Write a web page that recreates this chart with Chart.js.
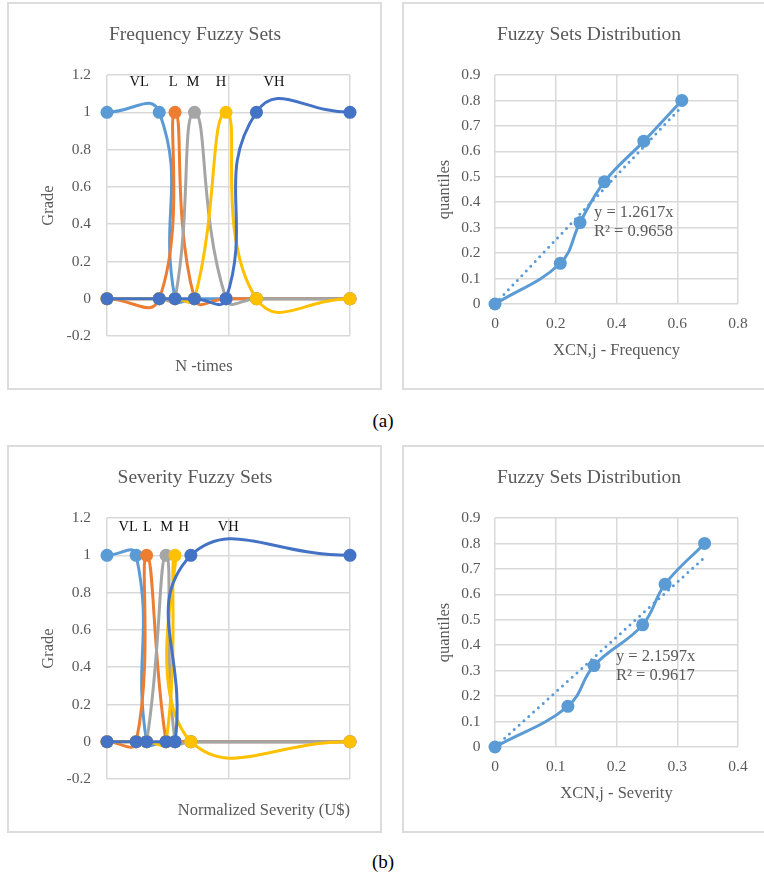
<!DOCTYPE html>
<html>
<head>
<meta charset="utf-8">
<script src="https://cdn.jsdelivr.net/npm/chart.js@4.4.1/dist/chart.umd.min.js"></script>
<style>
  html, body { margin: 0; padding: 0; background: #fff; }
  #page { position: relative; width: 764px; height: 879px; overflow: hidden; }
  .box { position: absolute; width: 375px; height: 388px; border: 2px solid #DCDCDC; box-sizing: border-box; }
  canvas { position: absolute; }
  .cap { position: absolute; font: 19px 'Liberation Serif', 'Times New Roman', serif; line-height: 19px; color: #000; transform: translateX(-50%); }
</style>
</head>
<body>
<div id="page">
  <div class="box" style="left:7px; top:2px;"></div>
  <div class="box" style="left:402px; top:2px;"></div>
  <div class="box" style="left:7px; top:445px;"></div>
  <div class="box" style="left:402px; top:445px;"></div>
  <canvas id="freqSets" width="374" height="387" style="left:8px; top:3px;"></canvas>
  <canvas id="freqDist" width="374" height="387" style="left:402px; top:3px;"></canvas>
  <canvas id="sevSets" width="374" height="387" style="left:8px; top:446px;"></canvas>
  <canvas id="sevDist" width="374" height="387" style="left:402px; top:446px;"></canvas>
  <div class="cap" style="left:383px; top:411px;">(a)</div>
  <div class="cap" style="left:383px; top:852px;">(b)</div>
</div>
<script>
	// fuzzy sets (membership grade at each break point)
	const setNames = ['VL', 'L', 'M', 'H', 'VH'];
	const setColors = ['#5B9BD5', '#ED7D31', '#A5A5A5', '#FFC000', '#4472C4'];

	const freqSetX = [0, 0.215, 0.28, 0.36, 0.49, 0.615, 1];
	const freqVL = [1, 1, 0, 0, 0, 0, 0];
	const freqL  = [0, 0, 1, 0, 0, 0, 0];
	const freqM  = [0, 0, 0, 1, 0, 0, 0];
	const freqH  = [0, 0, 0, 0, 1, 0, 0];
	const freqVH = [0, 0, 0, 0, 0, 1, 1];
	const freqLabelX = [0.132, 0.272, 0.354, 0.469, 0.687];

	const sevSetX = [0, 0.12, 0.163, 0.243, 0.28, 0.345, 1];
	const sevVL = [1, 1, 0, 0, 0, 0, 0];
	const sevL  = [0, 0, 1, 0, 0, 0, 0];
	const sevM  = [0, 0, 0, 1, 0, 0, 0];
	const sevH  = [0, 0, 0, 0, 1, 0, 0];
	const sevVH = [0, 0, 0, 0, 0, 1, 1];
	const sevLabelX = [0.087, 0.166, 0.246, 0.316, 0.499];

	const gradeTicks = [-0.2, 0, 0.2, 0.4, 0.6, 0.8, 1, 1.2];
	const gradeTickLabels = ['-0.2', '0', '0.2', '0.4', '0.6', '0.8', '1', '1.2'];
	const setTicks = [0, 0.5, 1];
	const setTickLabels = ['0', '0.5', '1'];

	// distribution (quantiles vs XCN,j)
	const quantiles = [0, 0.16, 0.32, 0.48, 0.64, 0.8];
	const freqXcn = [0, 0.215, 0.28, 0.36, 0.49, 0.615];
	const sevXcn = [0, 0.12, 0.163, 0.243, 0.28, 0.345];
	const freqTrendX = [0, 0.615];
	const freqTrendY = [0, 0.776];
	const sevTrendX = [0, 0.345];
	const sevTrendY = [0, 0.745];
	const freqEq = ['y = 1.2617x', 'R² = 0.9658'];
	const sevEq = ['y = 2.1597x', 'R² = 0.9617'];

	const quantTicks = [0, 0.1, 0.2, 0.3, 0.4, 0.5, 0.6, 0.7, 0.8, 0.9];
	const quantTickLabels = ['0', '0.1', '0.2', '0.3', '0.4', '0.5', '0.6', '0.7', '0.8', '0.9'];
	const freqXcnTicks = [0, 0.2, 0.4, 0.6, 0.8];
	const freqXcnTickLabels = ['0', '0.2', '0.4', '0.6', '0.8'];
	const sevXcnTicks = [0, 0.1, 0.2, 0.3, 0.4];
	const sevXcnTickLabels = ['0', '0.1', '0.2', '0.3', '0.4'];

	const SERIF = "'Liberation Serif', 'Times New Roman', serif";
	const GREY = '#595959';
	const GRID = '#D9D9D9';

	// text placed at data coordinates
	function textMarks(items) {
		return {
			id: 'textMarks',
			afterDraw(chart) {
				const ctx = chart.ctx;
				const xs = chart.scales.x, ys = chart.scales.y;
				items.forEach((it) => {
					ctx.save();
					ctx.font = it.font;
					ctx.fillStyle = it.color;
					ctx.textAlign = it.align || 'center';
					ctx.textBaseline = 'middle';
					ctx.fillText(it.text, xs.getPixelForValue(it.x), ys.getPixelForValue(it.y));
					ctx.restore();
				});
			}
		};
	}

	function axis(min, max, ticks, labels, extra) {
		return Object.assign({
			type: 'linear', min: min, max: max,
			afterBuildTicks: (s) => { s.ticks = ticks.map((v) => ({value: v})); },
			grid: {color: GRID, lineWidth: 1.5, drawTicks: false},
			border: {display: false},
			ticks: {autoSkip: false, color: GREY, font: {family: SERIF, size: 15.5}, callback: (v, i) => labels[i]}
		}, extra);
	}

	function baseOptions(title, padSide) {
		return {
			responsive: false, animation: false, events: [],
			layout: {padding: {left: padSide, right: padSide, top: 0, bottom: 0}},
			plugins: {
				legend: {display: false},
				tooltip: {enabled: false},
				title: {display: true, text: title, color: GREY,
					font: {family: SERIF, size: 19.5, weight: 'normal'},
					padding: {top: 19.7, bottom: 28.9}}
			}
		};
	}

	function fuzzyChart(id, title, xs, series, labelX, labelY, xTitle, extraText) {
		const datasets = series.map((vals, k) => ({
			label: setNames[k],
			data: xs.map((x, i) => ({x: x, y: vals[i]})),
			borderColor: setColors[k], backgroundColor: setColors[k],
			borderWidth: 3, pointRadius: 6.5, pointBorderWidth: 0,
			showLine: true, tension: 0.5, clip: false, order: 5 - k
		}));
		const items = setNames.map((n, k) => ({text: n, x: labelX[k], y: labelY,
			font: `14.5px ${SERIF}`, color: '#111'}));
		extraText.forEach((t) => items.push(t));

		const opts = baseOptions(title, 32);
		opts.scales = {
			x: axis(0, 1, setTicks, setTickLabels, {
				afterFit: (s) => { s.height = 54; },
				title: xTitle
			}),
			y: axis(-0.2, 1.2, gradeTicks, gradeTickLabels, {
				afterFit: (s) => { s.width = 67; },
				title: {display: true, text: 'Grade', color: GREY, font: {family: SERIF, size: 16.5}, padding: {top: -1, bottom: 0}}
			})
		};
		opts.scales.x.ticks.padding = -26;
		opts.scales.y.ticks.padding = 16;
		return new Chart(document.getElementById(id), {
			type: 'scatter', data: {datasets: datasets}, options: opts, plugins: [textMarks(items)]
		});
	}

	function distChart(id, xs, trendX, trendY, xMax, xTicks, xLabels, xTitle, eq, eqX, eqY) {
		const c = '#5B9BD5';
		const datasets = [
			{data: xs.map((x, i) => ({x: x, y: quantiles[i]})),
				borderColor: c, backgroundColor: c, borderWidth: 3, pointRadius: 6.5, pointBorderWidth: 0,
				showLine: true, tension: 0.4, clip: false, order: 1},
			{data: trendX.map((x, i) => ({x: x, y: trendY[i]})),
				borderColor: c, borderWidth: 3, pointRadius: 0, borderDash: [0, 6.5], borderCapStyle: 'round',
				showLine: true, tension: 0, clip: false, order: 0}
		];
		const items = eq.map((t, i) => ({text: t, x: eqX, y: eqY[i], align: 'left',
			font: `16.5px ${SERIF}`, color: GREY}));
		const opts = baseOptions('Fuzzy Sets Distribution', 38);
		opts.scales = {
			x: axis(0, xMax, xTicks, xLabels, {
				afterFit: (s) => { s.height = 86; },
				title: {display: true, text: xTitle, color: GREY, font: {family: SERIF, size: 16.5}, padding: {top: 0, bottom: 29}}
			}),
			y: axis(0, 0.9, quantTicks, quantTickLabels, {
				afterFit: (s) => { s.width = 55; },
				title: {display: true, text: 'quantiles', color: GREY, font: {family: SERIF, size: 16.5}, padding: {top: -5, bottom: 0}}
			})
		};
		opts.scales.x.ticks.padding = 11;
		opts.scales.y.ticks.padding = 14.5;
		return new Chart(document.getElementById(id), {
			type: 'scatter', data: {datasets: datasets}, options: opts, plugins: [textMarks(items)]
		});
	}

	fuzzyChart('freqSets', 'Frequency Fuzzy Sets', freqSetX, [freqVL, freqL, freqM, freqH, freqVH],
		freqLabelX, 1.163, {display: false},
		[{text: 'N -times', x: 0.399, y: -0.366, font: `16.5px ${SERIF}`, color: GREY}]);

	fuzzyChart('sevSets', 'Severity Fuzzy Sets', sevSetX, [sevVL, sevL, sevM, sevH, sevVH],
		sevLabelX, 1.149,
		{display: true, text: 'Normalized Severity (U$)', align: 'end', color: GREY,
			font: {family: SERIF, size: 16.5}, padding: {top: 0, bottom: 12}},
		[]);

	distChart('freqDist', freqXcn, freqTrendX, freqTrendY, 0.8, freqXcnTicks, freqXcnTickLabels,
		'XCN,j - Frequency', freqEq, 0.326, [0.359, 0.284]);

	distChart('sevDist', sevXcn, sevTrendX, sevTrendY, 0.4, sevXcnTicks, sevXcnTickLabels,
		'XCN,j - Severity', sevEq, 0.199, [0.355, 0.28]);
</script>
</body>
</html>
